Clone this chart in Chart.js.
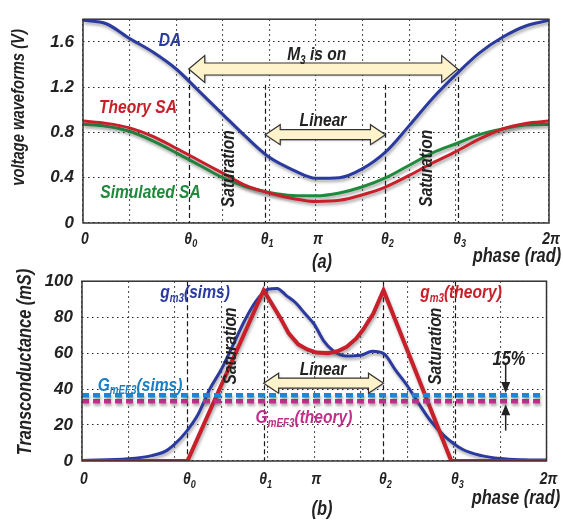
<!DOCTYPE html>
<html>
<head>
<meta charset="utf-8">
<script src="https://cdn.jsdelivr.net/npm/chart.js@4.4.1/dist/chart.umd.min.js"></script>
<style>
	html, body { margin: 0; padding: 0; background: #fff; }
	#wrap { position: relative; width: 563px; height: 525px; }
	#wrap canvas { position: absolute; left: 0; }
	#wave-chart { top: 0; }
	#gm-chart { top: 262px; }
</style>
</head>
<body>
<div id="wrap">
	<canvas id="wave-chart" width="563" height="275" style="width:563px;height:275px"></canvas>
	<canvas id="gm-chart" width="563" height="263" style="width:563px;height:263px"></canvas>
</div>
<script>
// phase axis, rad
var TWO_PI = 6.2832;
var thetas = [1.426, 2.457, 4.078, 5.052];          // theta0..theta3
var phaseTicks = [0, 1.426, 2.457, 3.1416, 4.078, 5.052, 6.2832];
// tick text, second entry marks a subscript
var phaseLabels = [[['0']], [['θ'], ['0', true]], [['θ'], ['1', true]], [['π']],
	[['θ'], ['2', true]], [['θ'], ['3', true]], [['2π']]];

// (a) voltage waveforms, V
var phaseA = [0, 0.314, 0.628, 0.942, 1.257, 1.571, 1.885, 2.199, 2.513, 2.827, 3.142,
	3.456, 3.770, 4.084, 4.398, 4.712, 5.027, 5.341, 5.655, 5.969, 6.283];
var daWave = [1.79, 1.76, 1.63, 1.51, 1.36, 1.16, 0.96, 0.76, 0.58, 0.47, 0.395,
	0.40, 0.48, 0.63, 0.86, 1.10, 1.31, 1.50, 1.64, 1.74, 1.79];
var saTheory = [0.90, 0.88, 0.84, 0.765, 0.66, 0.55, 0.44, 0.33, 0.265, 0.217, 0.19,
	0.20, 0.25, 0.32, 0.42, 0.53, 0.63, 0.74, 0.83, 0.88, 0.90];
var saSim = [0.873, 0.855, 0.81, 0.725, 0.62, 0.51, 0.40, 0.32, 0.27, 0.243, 0.24,
	0.265, 0.32, 0.40, 0.51, 0.62, 0.70, 0.78, 0.83, 0.865, 0.87];
var voltTicks = [0, 0.2, 0.4, 0.6, 0.8, 1.0, 1.2, 1.4, 1.6, 1.8];

// (b) transconductance, mS
var gmSimPhase = [0, 0.628, 0.942, 1.131, 1.257, 1.414, 1.571, 1.728, 1.885, 2.042, 2.199,
	2.356, 2.513, 2.639, 2.765, 2.890, 3.016, 3.142, 3.267, 3.393, 3.581, 3.770, 3.927,
	4.084, 4.241, 4.398, 4.555, 4.712, 4.901, 5.152, 5.404, 5.655, 5.969, 6.283];
var gmSim = [0.3, 1.2, 3, 5.5, 9.5, 16.5, 26, 40, 51, 64.5, 78,
	89, 95.5, 96, 92, 88, 82, 76, 67, 61.5, 58.4, 58.8, 61,
	59.6, 50.5, 42, 32, 22.5, 14, 6.4, 3, 1.4, 0.7, 0.5];
var gmTheoryPhase = [0, 1.426, 2.457, 2.677, 2.796, 2.922, 3.047, 3.173, 3.330, 3.456,
	3.581, 3.707, 3.801, 3.940, 4.078, 4.995, 6.283];
var gmTheory = [0, 0, 95, 80, 71, 65, 62, 60.3, 60, 61,
	63.5, 68, 73, 82, 95, 0, 0];
var gmefSpan = [0, 6.218];
var gmefSims = 36.5;
var gmefTheory = 33.2;
var gmTicks = [0, 20, 40, 60, 80, 100];

var BLUE = '#2b3a9e', RED = '#c8202a', GREEN = '#1f8a3c';
var CYAN = '#1d86cf', MAGENTA = '#c42f8e', INK = '#222';

function fontAvailable(name) {
	var c = document.createElement('canvas').getContext('2d');
	var probe = 'voltage 1.6 WMil';
	c.font = '40px monospace';
	var w = c.measureText(probe).width;
	c.font = '40px "' + name + '", monospace';
	return c.measureText(probe).width !== w;
}
var narrow = fontAvailable('Liberation Sans Narrow');
var FAMILY = narrow ? '"Liberation Sans Narrow", "Liberation Sans", sans-serif' : '"Liberation Sans", Arial, sans-serif';
var SQUEEZE = narrow ? 1 : 0.82;
var TICK = narrow ? 19 : 17;

function pointsOf(xs, ys) {
	return xs.map(function (x, i) { return {x: x, y: ys[i]}; });
}

function gridStops() {
	var out = [];
	for (var k = 0; k <= 10; k++) out.push({value: k * TWO_PI / 10});
	return out;
}

function drawParts(ctx, parts, size, color, x, y, rotate, align) {
	var subSize = Math.round(size * 0.65);
	var widths = parts.map(function (p) {
		ctx.font = 'italic bold ' + (p[1] ? subSize : size) + 'px ' + FAMILY;
		return ctx.measureText(p[0]).width;
	});
	var total = widths.reduce(function (a, b) { return a + b; }, 0);
	ctx.save();
	ctx.translate(x, y);
	if (rotate) ctx.rotate(-Math.PI / 2);
	ctx.scale(SQUEEZE, 1);
	ctx.fillStyle = color;
	ctx.textBaseline = 'alphabetic';
	ctx.textAlign = 'left';
	var cx = align === 'right' ? -total : -total / 2;
	var base = size * 0.36;
	parts.forEach(function (p, i) {
		ctx.font = 'italic bold ' + (p[1] ? subSize : size) + 'px ' + FAMILY;
		ctx.fillText(p[0], cx, p[1] ? base + size * 0.2 : base);
		cx += widths[i];
	});
	ctx.restore();
}

function blockArrow(ctx, x1, x2, yc, shaft, head, len) {
	ctx.save();
	ctx.shadowColor = 'rgba(0,0,0,0.25)';
	ctx.shadowBlur = 2;
	ctx.shadowOffsetX = 1;
	ctx.shadowOffsetY = 1;
	ctx.beginPath();
	ctx.moveTo(x1, yc);
	ctx.lineTo(x1 + len, yc - head / 2);
	ctx.lineTo(x1 + len, yc - shaft / 2);
	ctx.lineTo(x2 - len, yc - shaft / 2);
	ctx.lineTo(x2 - len, yc - head / 2);
	ctx.lineTo(x2, yc);
	ctx.lineTo(x2 - len, yc + head / 2);
	ctx.lineTo(x2 - len, yc + shaft / 2);
	ctx.lineTo(x1 + len, yc + shaft / 2);
	ctx.lineTo(x1 + len, yc + head / 2);
	ctx.closePath();
	ctx.fillStyle = '#fff3cc';
	ctx.fill();
	ctx.shadowColor = 'transparent';
	ctx.lineWidth = 1.2;
	ctx.strokeStyle = '#333';
	ctx.stroke();
	ctx.restore();
}

function pointer(ctx, x, yFrom, yTo) {
	var dir = yTo > yFrom ? 1 : -1;
	ctx.save();
	ctx.strokeStyle = INK;
	ctx.fillStyle = INK;
	ctx.lineWidth = 1.5;
	ctx.beginPath();
	ctx.moveTo(x, yFrom);
	ctx.lineTo(x, yTo - dir * 9);
	ctx.stroke();
	ctx.beginPath();
	ctx.moveTo(x, yTo);
	ctx.lineTo(x - 4.5, yTo - dir * 11);
	ctx.lineTo(x + 4.5, yTo - dir * 11);
	ctx.closePath();
	ctx.fill();
	ctx.restore();
}

// drop shadow under every curve
var shadowPlugin = {
	id: 'curveShadow',
	beforeDatasetDraw: function (chart) {
		var ctx = chart.ctx;
		ctx.save();
		ctx.shadowColor = 'rgba(70,70,70,0.45)';
		ctx.shadowBlur = 3;
		ctx.shadowOffsetX = 1;
		ctx.shadowOffsetY = 2.5;
	},
	afterDatasetDraw: function (chart) {
		chart.ctx.restore();
	}
};

// theta markers under the curves; frame, phase labels and notes over them
function makeNotes(id, markers, notes, labelDrop) {
	return {
		id: id,
		beforeDatasetsDraw: function (chart) {
			var ctx = chart.ctx, xs = chart.scales.x, ys = chart.scales.y;
			ctx.save();
			ctx.strokeStyle = '#1a1a1a';
			ctx.lineWidth = 1.2;
			ctx.setLineDash([5, 3]);
			markers.forEach(function (m) {
				var px = Math.round(xs.getPixelForValue(m.x)) + 0.5;
				ctx.beginPath();
				ctx.moveTo(px, ys.getPixelForValue(m.top));
				ctx.lineTo(px, chart.chartArea.bottom);
				ctx.stroke();
			});
			ctx.restore();
		},
		afterDatasetsDraw: function (chart) {
			var ctx = chart.ctx, xs = chart.scales.x, ys = chart.scales.y, a = chart.chartArea;
			ctx.save();
			ctx.strokeStyle = '#333';
			ctx.lineWidth = 1.5;
			ctx.strokeRect(a.left, a.top, a.right - a.left, a.bottom - a.top);
			ctx.restore();
			var xt = chart.scales.xt;
			xt.ticks.forEach(function (t, i) {
				drawParts(ctx, phaseLabels[i], TICK, INK, xt.getPixelForValue(t.value) + 2,
					a.bottom + labelDrop);
			});
			notes.forEach(function (n) {
				if (n.kind === 'arrow') {
					blockArrow(ctx, xs.getPixelForValue(n.x1), xs.getPixelForValue(n.x2),
						ys.getPixelForValue(n.y), n.shaft, n.head, n.len);
				} else if (n.kind === 'gap') {
					var gx = xs.getPixelForValue(n.x);
					pointer(ctx, gx, ys.getPixelForValue(n.top), ys.getPixelForValue(n.upper));
					pointer(ctx, gx, ys.getPixelForValue(n.bottom), ys.getPixelForValue(n.lower));
				} else {
					var px = n.px !== undefined ? n.px : xs.getPixelForValue(n.x);
					var py = n.py !== undefined ? n.py : ys.getPixelForValue(n.y);
					drawParts(ctx, n.parts, n.size || 19, n.color || INK, px, py, n.rotate, n.align);
				}
			});
		}
	};
}

function phaseScales(xHeight) {
	return {
		x: {
			type: 'linear', min: 0, max: TWO_PI,
			afterBuildTicks: function (s) { s.ticks = gridStops(); },
			afterFit: function (s) { s.height = 0; },
			ticks: {display: false},
			grid: {color: '#222', lineWidth: 1.1, drawTicks: false},
			border: {display: false, dash: [1.5, 3.5]}
		},
		xt: {
			type: 'linear', axis: 'x', position: 'bottom', min: 0, max: TWO_PI,
			afterBuildTicks: function (s) {
				s.ticks = phaseTicks.map(function (v) { return {value: v}; });
			},
			afterFit: function (s) { s.height = xHeight; },
			ticks: {display: false},
			grid: {display: false, drawTicks: false},
			border: {display: false}
		}
	};
}

function valueScale(min, max, stops, labelEvery, width) {
	return {
		min: min, max: max,
		afterBuildTicks: function (s) {
			s.ticks = stops.map(function (v) { return {value: v}; });
		},
		afterFit: function (s) { s.width = width; },
		ticks: {
			padding: 9, color: INK,
			font: {family: FAMILY, size: TICK, style: 'italic', weight: 'bold'},
			callback: function (v) {
				var q = v / labelEvery;
				return Math.abs(q - Math.round(q)) < 1e-6 ? String(+v.toFixed(1)) : '';
			}
		},
		grid: {color: '#222', lineWidth: 1.1, drawTicks: false},
		border: {display: false, dash: [1.5, 3.5]}
	};
}

function curve(label, xs, ys, color, width, extra) {
	var ds = {
		label: label, data: pointsOf(xs, ys), borderColor: color, borderWidth: width,
		pointRadius: 0, fill: false, cubicInterpolationMode: 'monotone', xAxisID: 'x'
	};
	for (var k in extra) ds[k] = extra[k];
	return ds;
}

// (a) voltage waveforms; canvas is 275 high, plot bottom at 223
var scalesA = phaseScales(52);
scalesA.y = valueScale(0, 1.8, voltTicks, 0.4, 83);

var notesA = [
	{x: 1.173, y: 1.628, parts: [['DA']], color: BLUE},
	{x: 0.742, y: 1.036, parts: [['Theory SA']], color: RED},
	{x: 0.910, y: 0.285, parts: [['Simulated SA']], color: GREEN},
	{x: 1.942, y: 0.48, parts: [['Saturation']], rotate: true},
	{x: 4.618, y: 0.484, parts: [['Saturation']], rotate: true},
	{kind: 'arrow', x1: thetas[0], x2: thetas[3], y: 1.36, shaft: 12, head: 27, len: 16},
	{x: 3.151, y: 1.498, parts: [['M'], ['3', true], [' is on']]},
	{kind: 'arrow', x1: thetas[1], x2: thetas[2], y: 0.78, shaft: 10, head: 20, len: 15},
	{x: 3.236, y: 0.914, parts: [['Linear']]},
	{px: 18, py: 107.5, parts: [['voltage waveforms (V)']], size: 18, rotate: true},
	{px: 517, py: 254.5, parts: [['phase (rad)']], size: 20},
	{px: 322, py: 261, parts: [['(a)']], size: 20}
];
var markersA = [
	{x: thetas[0], top: 1.36}, {x: thetas[1], top: 1.22},
	{x: thetas[2], top: 1.22}, {x: thetas[3], top: 1.36}
];

var waveChart = new Chart(document.getElementById('wave-chart'), {
	type: 'line',
	data: {
		datasets: [
			curve('DA', phaseA, daWave, BLUE, 3),
			curve('Theory SA', phaseA, saTheory, RED, 3),
			curve('Simulated SA', phaseA, saSim, GREEN, 3)
		]
	},
	options: {
		responsive: false, animation: false,
		layout: {padding: {top: 1, right: 14, left: 0, bottom: 0}},
		plugins: {legend: {display: false}, tooltip: {enabled: false}},
		scales: scalesA
	},
	plugins: [shadowPlugin, makeNotes('notesA', markersA, notesA, 14.5)]
});

// (b) transconductance
var scalesB = phaseScales(64);
scalesB.y = valueScale(0, 100, gmTicks, 20, 82);

var notesB = [
	{x: 1.529, y: 94.3, parts: [['g'], ['m3', true], ['(sims)']], color: BLUE},
	{x: 5.127, y: 94.3, parts: [['g'], ['m3', true], ['(theory)']], color: RED},
	{x: 0.785, y: 43, parts: [['G'], ['mEF3', true], ['(sims)']], color: '#1a7fc4'},
	{x: 3.003, y: 25.1, parts: [['G'], ['mEF3', true], ['(theory)']], color: '#c0308a'},
	{x: 1.988, y: 64, parts: [['Saturation']], rotate: true},
	{x: 4.761, y: 63.8, parts: [['Saturation']], rotate: true},
	{kind: 'arrow', x1: thetas[1], x2: thetas[2], y: 43.3, shaft: 10, head: 20, len: 15},
	{x: 3.260, y: 51.8, parts: [['Linear']]},
	{kind: 'gap', x: 5.731, top: 53.7, upper: 37.8, lower: 31.6, bottom: 16.9},
	{x: 5.776, y: 57.5, parts: [['15%']], size: 20},
	{px: 24, py: 100, parts: [['Transconductance (mS)']], size: 20, rotate: true},
	{px: 516, py: 235, parts: [['phase (rad)']], size: 20},
	{px: 322, py: 245.5, parts: [['(b)']], size: 20}
];
var markersB = thetas.map(function (t) { return {x: t, top: 100}; });

var gmChart = new Chart(document.getElementById('gm-chart'), {
	type: 'line',
	data: {
		datasets: [
			curve('GmEF3(sims)', gmefSpan, [gmefSims, gmefSims], CYAN, 4.5,
				{borderDash: [7, 4], cubicInterpolationMode: 'default'}),
			curve('GmEF3(theory)', gmefSpan, [gmefTheory, gmefTheory], MAGENTA, 4.5,
				{borderDash: [7, 4], cubicInterpolationMode: 'default'}),
			curve('gm3(theory)', gmTheoryPhase, gmTheory, RED, 4,
				{cubicInterpolationMode: 'default', tension: 0}),
			curve('gm3(sims)', gmSimPhase, gmSim, BLUE, 3)
		]
	},
	options: {
		responsive: false, animation: false,
		layout: {padding: {top: 15.3, right: 16.5, left: 0, bottom: 0}},
		plugins: {legend: {display: false}, tooltip: {enabled: false}},
		scales: scalesB
	},
	plugins: [shadowPlugin, makeNotes('notesB', markersB, notesB, 17)]
});
</script>
</body>
</html>
